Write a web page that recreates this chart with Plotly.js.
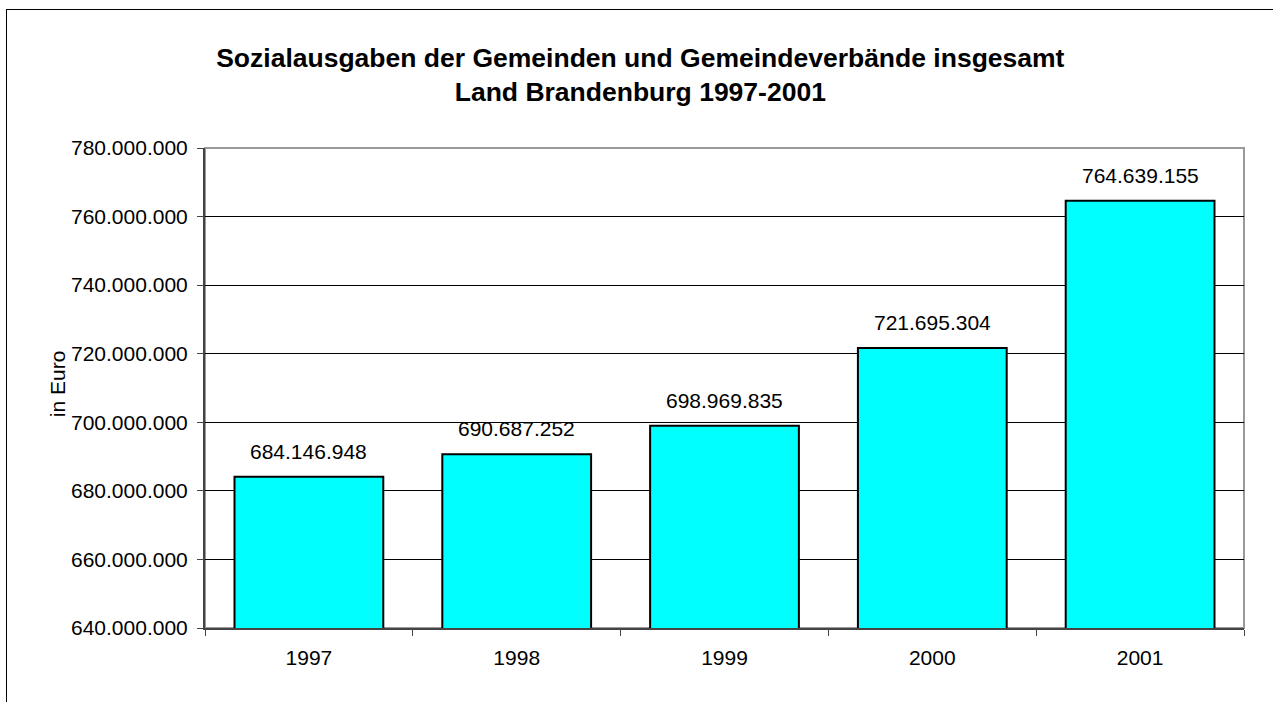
<!DOCTYPE html>
<html>
<head>
<meta charset="utf-8">
<script src="https://cdn.plot.ly/plotly-3.0.1.min.js"></script>
<style>
  html, body { margin: 0; padding: 0; overflow: hidden; background: #fff; }
  #wrap { position: relative; width: 1273px; height: 702px; }
  #chart { width: 1273px; height: 702px; }
  #frame { position: absolute; left: 6px; top: 9px; width: 1400px; height: 900px;
           border: 1.5px solid #000; pointer-events: none; box-sizing: border-box; }
</style>
</head>
<body>
<div id="wrap">
  <div id="chart"></div>
  <div id="frame"></div>
</div>
<script>
const years = ["1997", "1998", "1999", "2000", "2001"];
const ausgaben = [684146948, 690687252, 698969835, 721695304, 764639155];
const yTicks = [640000000, 660000000, 680000000, 700000000, 720000000, 740000000, 760000000, 780000000];
const titleLines = ["Sozialausgaben der Gemeinden und Gemeindeverbände insgesamt", "Land Brandenburg 1997-2001"];
const yTitle = "in Euro";

function fmt(v) {
  return String(Math.round(v)).replace(/\B(?=(\d{3})+(?!\d))/g, ".");
}

const font = "Liberation Sans, Arial, sans-serif";

const trace = {
  type: "bar",
  x: years,
  y: ausgaben,
  marker: { color: "#00FFFF", line: { color: "#000", width: 2 } },
  hoverinfo: "none"
};

const labelAnns = years.map((yr, i) => ({
  x: i, y: ausgaben[i], xref: "x", yref: "y",
  text: fmt(ausgaben[i]), showarrow: false,
  yanchor: "bottom", yshift: 12,
  font: { family: font, size: 21, color: "#000" }
}));

const layout = {
  width: 1273, height: 702,
  margin: { l: 205, r: 29, t: 148, b: 74 },
  paper_bgcolor: "#fff", plot_bgcolor: "#fff",
  separators: ",.",
  showlegend: false,
  bargap: 0.284,
  font: { family: font, size: 21, color: "#000" },
  title: {
    text: titleLines.join("<br>"),
    font: { family: font, size: 26.5, color: "#000", weight: "bold" },
    xref: "container", x: 0.503, xanchor: "center",
    yref: "container", y: 0.905, yanchor: "top"
  },
  xaxis: {
    type: "category",
    range: [-0.5, years.length - 0.5],
    autorange: false,
    showgrid: false,
    showline: true, linecolor: "#444", linewidth: 2,
    ticks: "outside", tickson: "boundaries", ticklen: 6, tickcolor: "#444", tickwidth: 1,
    tickfont: { family: font, size: 21, color: "#000" },
    ticklabelstandoff: 10,
    fixedrange: true
  },
  yaxis: {
    range: [640000000, 780000000],
    autorange: false,
    tickvals: yTicks,
    ticktext: yTicks.map(fmt),
    showgrid: true, gridcolor: "#000", gridwidth: 1,
    zeroline: false,
    showline: true, linecolor: "#444", linewidth: 2,
    ticks: "outside", ticklen: 6, tickcolor: "#444", tickwidth: 1,
    tickfont: { family: font, size: 21, color: "#000" },
    ticklabelstandoff: 5,
    fixedrange: true
  },
  shapes: [{
    type: "rect", xref: "paper", yref: "paper", x0: 0, x1: 1, y0: 0, y1: 1,
    line: { color: "#999", width: 2 }, layer: "below"
  }],
  annotations: labelAnns.concat([{
    text: yTitle, xref: "paper", yref: "paper",
    x: (57 - 205) / 1039, y: 0.508, xanchor: "center", yanchor: "middle",
    textangle: -90, showarrow: false,
    font: { family: font, size: 21, color: "#000" }
  }])
};

Plotly.newPlot("chart", [trace], layout, { displayModeBar: false, staticPlot: true });
</script>
</body>
</html>
